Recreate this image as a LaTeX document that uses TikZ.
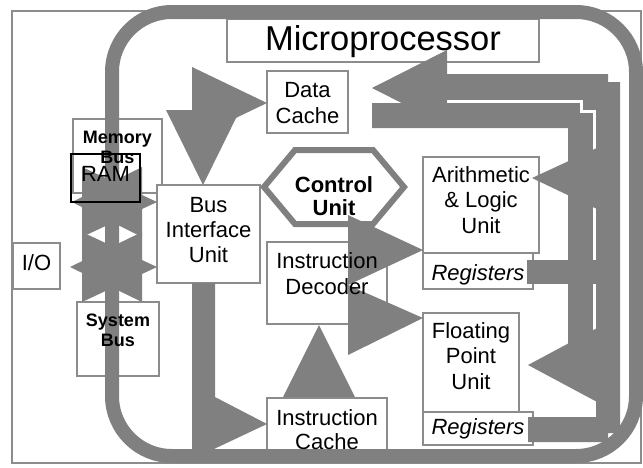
\documentclass[tikz,border=0pt]{standalone}
\usepackage{fontspec}
\setmainfont{Liberation Sans}
\definecolor{ag}{RGB}{128,128,128}
\definecolor{bd}{RGB}{140,140,140}
\tikzset{
  box/.style={draw=bd, line width=1.5pt, fill=white, inner sep=0pt},
  blk/.style={fill=ag, draw=none},
  t/.style={anchor=base, inner sep=0pt, font=\fontsize{22}{26}\selectfont},
  tb/.style={anchor=base, inner sep=0pt, font=\fontsize{18}{20}\selectfont\bfseries},
  tc/.style={anchor=base, inner sep=0pt, font=\fontsize{22}{26}\selectfont\bfseries},
  ti/.style={anchor=base, inner sep=0pt, font=\fontsize{22}{26}\selectfont\itshape},
}
\begin{document}
\begin{tikzpicture}[x=1pt,y=-1pt]
\useasboundingbox (0,0) rectangle (643,467);
% outer frame
\draw[draw=bd, line width=1.5pt] (12,11) rectangle (641,463);
% boxes
\node[box, minimum width=312, minimum height=43] (title) at (383,40.5) {};
\node[box, minimum width=81, minimum height=62] (dc) at (307.5,102) {};
\node[box, minimum width=89, minimum height=74] (mbus) at (117.5,156) {};
\node[box, minimum width=103, minimum height=98] (biu) at (208.5,234) {};
\node[box, minimum width=47, minimum height=46] (io) at (36.5,266) {};
\node[box, minimum width=82, minimum height=74] (sbus) at (118,339) {};
\node[box, minimum width=120, minimum height=82] (dec) at (327,283) {};
\node[box, minimum width=120, minimum height=58] (ic) at (327,427) {};
\node[box, minimum width=116, minimum height=96] (alu) at (481,205) {};
\node[box, minimum width=110, minimum height=36] (reg1) at (478,271) {};
\node[box, minimum width=96, minimum height=99] (fpu) at (471,362.5) {};
\node[box, minimum width=110, minimum height=33] (reg2) at (478,428.5) {};
% control unit hexagon
\filldraw[draw=ag, fill=white, line width=6pt, line join=miter]
  (264,187) -- (295,150) -- (373,150) -- (404,187) -- (373,224) -- (295,224) -- cycle;
% bus arrows (left)
\fill[blk] (72,202) -- (142,167) -- (142,237) -- cycle;
\fill[blk] (157,202) -- (82,167) -- (82,237) -- cycle;
\fill[blk] (70,267) -- (142,232) -- (142,302) -- cycle;
\fill[blk] (157,267) -- (82,232) -- (82,302) -- cycle;
% big rounded band
\draw[draw=ag, line width=14pt, rounded corners=60pt] (112,12) rectangle (636,456);
% heads to BIU and Data Cache
\fill[blk] (166,110) -- (240,110) -- (203,185) -- cycle;
\fill[blk] (192,67) -- (267,103) -- (192,139) -- cycle;
% BIU to instruction cache
\fill[blk] (192,283) -- (215,283) -- (215,397) -- (267,424) -- (197,457) -- (192,457) -- cycle;
% instruction cache to decoder
\fill[blk] (283,397) -- (319,325) -- (355,397) -- cycle;
% control/decoder to ALU and FPU
\fill[blk] (348,215) -- (423,250) -- (348,285) -- cycle;
\fill[blk] (348,285) -- (423,318) -- (348,355) -- cycle;
% right side bands
\fill[blk] (372,103) -- (583,103) -- (583,113) -- (594,113) -- (594,370) -- (568,370) -- (568,128) -- (372,128) -- cycle;
\fill[blk] (447,50) -- (372,88) -- (447,126) -- (447,100) -- (581,100) -- (581,111) -- (596,111)
  -- (596,417) -- (528,417) -- (528,442) -- (608,442) -- (608,433) -- (620,433) -- (620,82)
  -- (608,82) -- (608,74) -- (447,74) -- cycle;
\draw[white, line width=3pt] (447,101.5) -- (581.5,101.5) -- (581.5,111.5) -- (594.5,111.5) -- (594.5,380);
\fill[blk] (599,147) -- (532,178) -- (599,210) -- cycle;
\fill[blk] (599,327) -- (528,365) -- (599,403) -- cycle;
\fill[blk] (527,260) rectangle (599,284);
% RAM box
\node[draw=black, line width=1.5pt, minimum width=69, minimum height=48, inner sep=0pt] (ram) at (105.5,178) {};
% texts
\node[anchor=base, inner sep=0pt, font=\fontsize{34.5}{40}\selectfont] (ttitle) at (383,50) {Microprocessor};
\node[t] (dc1) at (307.5,97) {Data};
\node[t] (dc2) at (307.5,123) {Cache};
\node[tb] (mb1) at (117.5,143) {Memory};
\node[tb] (mb2) at (117.5,163) {Bus};
\node[t] (tram) at (105.5,181) {RAM};
\node[t] (tio) at (36.5,270) {I/O};
\node[tb] (sb1) at (118,326) {System};
\node[tb] (sb2) at (118,346) {Bus};
\node[t] (bi1) at (208.5,212) {Bus};
\node[t] (bi2) at (208.5,237) {Interface};
\node[t] (bi3) at (208.5,262) {Unit};
\node[tc] (cu1) at (334,192) {Control};
\node[tc] (cu2) at (334,215) {Unit};
\node[t] (de1) at (327,268) {Instruction};
\node[t] (de2) at (327,294) {Decoder};
\node[t] (ic1) at (327,425) {Instruction};
\node[t] (ic2) at (327,449) {Cache};
\node[t] (al1) at (481,182) {Arithmetic};
\node[t] (al2) at (481,207) {\& Logic};
\node[t] (al3) at (481,233) {Unit};
\node[ti] (rg1) at (478,280) {Registers};
\node[t] (fp1) at (471,338) {Floating};
\node[t] (fp2) at (471,363) {Point};
\node[t] (fp3) at (471,389) {Unit};
\node[ti] (rg2) at (478,434) {Registers};
\end{tikzpicture}
\end{document}
